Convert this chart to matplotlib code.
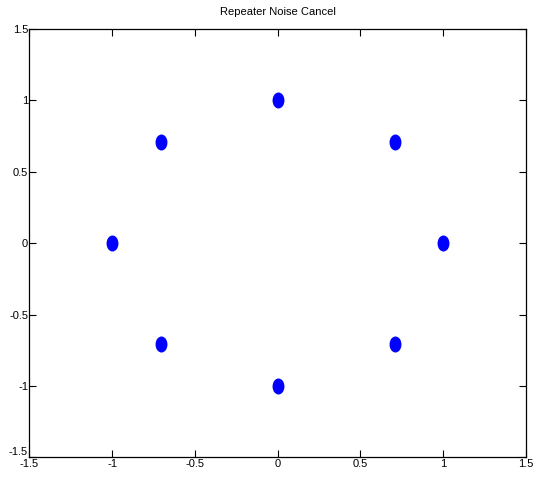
import matplotlib
matplotlib.use('Agg')
import matplotlib.pyplot as plt
from matplotlib.path import Path

# 8-PSK constellation points
x_pts = [1.0, 0.707, 0.0, -0.707, -1.0, -0.707, 0.0, 0.707]
y_pts = [0.0, 0.707, 1.0, 0.707, 0.0, -0.707, -1.0, -0.707]
ticks = [-1.5, -1, -0.5, 0, 0.5, 1, 1.5]
tick_labels = ['-1.5', '-1', '-0.5', '0', '0.5', '1', '1.5']

plt.rcParams['font.family'] = ['Liberation Sans Narrow', 'Liberation Sans', 'DejaVu Sans']

# slightly tall ellipse marker, as in the original
circ = Path.unit_circle()
ell = Path(circ.vertices * [0.72, 1.0], circ.codes)

fig = plt.figure(figsize=(5.4, 4.78), dpi=100)
ax = fig.add_axes([0.0546, 0.043, 0.9194, 0.897])
ax.plot(x_pts, y_pts, linestyle='none', marker=ell, markersize=10.5,
        color='#0000ff', markeredgecolor='#0000ff')
ax.set_xlim(-1.5, 1.5)
ax.set_ylim(-1.5, 1.5)
ax.set_xticks(ticks)
ax.set_xticklabels(tick_labels)
ax.set_yticks(ticks)
ax.set_yticklabels(tick_labels)
ax.tick_params(direction='in', top=True, right=True, length=5, width=0.8,
               labelsize=8, pad=1)
# bottom y label sits just above the corner, like the original
ax.get_yticklabels()[0].set_verticalalignment('bottom')
for s in ax.spines.values():
    s.set_linewidth(0.9)
ax.set_title('Repeater Noise Cancel', fontsize=8, pad=10)
fig.savefig('out.png', dpi=100)
